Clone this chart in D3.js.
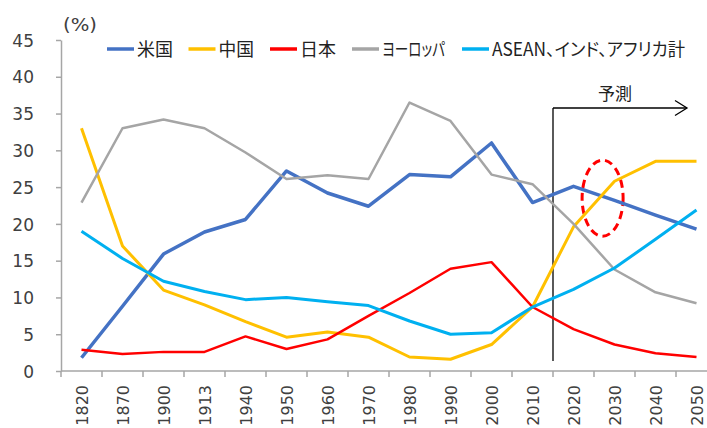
<!DOCTYPE html>
<html><head><meta charset="utf-8">
<script src="https://cdn.jsdelivr.net/npm/d3@7"></script>
<style>
html,body{margin:0;padding:0;background:#fff;}
svg{display:block;}
.jp{font-feature-settings:"palt";}
</style></head>
<body>
<svg id="chart" width="707" height="428"></svg>
<script>
const categories = ["1820","1870","1900","1913","1940","1950","1960","1970","1980","1990","2000","2010","2020","2030","2040","2050"];
const usValues     = [1.8, 8.8, 15.9, 18.9, 20.6, 27.2, 24.2, 22.4, 26.7, 26.4, 31.0, 22.9, 25.1, 23.2, 21.2, 19.3];
const chinaValues  = [33.0, 17.0, 11.0, 9.0, 6.7, 4.6, 5.3, 4.6, 1.9, 1.6, 3.6, 8.7, 19.6, 25.8, 28.5, 28.5];
const japanValues  = [2.9, 2.3, 2.6, 2.6, 4.7, 3.0, 4.3, 7.5, 10.6, 13.9, 14.8, 8.7, 5.7, 3.6, 2.4, 1.9];
const europeValues = [22.9, 33.0, 34.2, 33.0, 29.7, 26.1, 26.6, 26.1, 36.5, 34.0, 26.7, 25.4, 20.0, 13.8, 10.7, 9.2];
const aseanValues  = [19.0, 15.3, 12.2, 10.8, 9.7, 10.0, 9.4, 8.9, 6.8, 5.0, 5.2, 8.7, 11.1, 14.0, 17.9, 21.9];
const seriesNames  = ["米国", "中国", "日本", "ヨーロッパ", "ASEAN、インド、アフリカ計"];
const seriesColors = ["#4472C4", "#FFC000", "#FF0000", "#A5A5A5", "#00B0F0"];
const seriesWidths = [3.5, 3, 2.5, 2.5, 3];
const yTicks = [0, 5, 10, 15, 20, 25, 30, 35, 40, 45];
const unitLabel = "(%)";
const forecastLabel = "予測";
const forecastStart = "2020";

const seriesValues = [usValues, chinaValues, japanValues, europeValues, aseanValues];

const svg = d3.select("#chart");
const font = "'DejaVu Sans', Verdana, 'Noto Sans CJK JP', sans-serif";
const jpFont = "'Noto Sans CJK JP', 'DejaVu Sans', sans-serif";

const x = d3.scaleBand().domain(categories).range([61, 717]).padding(0);
const y = d3.scaleLinear().domain([0, 45]).range([371, 40]);
const cx = c => x(c) + x.bandwidth() / 2;

const axisColor = "#A6A6A6";
const textColor = "#404040";

// Y axis
const yAxis = d3.axisLeft(y).tickValues(yTicks).tickSize(5).tickSizeOuter(0).tickPadding(22);
const gy = svg.append("g").attr("transform", "translate(61,0)").call(yAxis);
gy.select(".domain").attr("stroke", axisColor).attr("stroke-width", 1.5);
gy.selectAll(".tick line").attr("stroke", axisColor).attr("stroke-width", 1.5);
gy.selectAll(".tick text").attr("fill", textColor).style("font-family", font).style("font-size", "17px").attr("dy", "0.36em");

// X axis
const gx = svg.append("g");
gx.append("line").attr("x1", x.range()[0]).attr("x2", x.range()[1]).attr("y1", y(0)).attr("y2", y(0))
  .attr("stroke", axisColor).attr("stroke-width", 1.5);
const boundaries = categories.map(c => x(c)).concat([x.range()[1]]);
gx.selectAll("line.tk").data(boundaries).enter().append("line").attr("class", "tk")
  .attr("x1", d => d).attr("x2", d => d).attr("y1", y(0)).attr("y2", y(0) + 6)
  .attr("stroke", axisColor).attr("stroke-width", 1.5);
gx.selectAll("text").data(categories).enter().append("text")
  .attr("transform", d => `translate(${cx(d) + 6},${y(0) + 14}) rotate(-90)`)
  .attr("text-anchor", "end")
  .attr("fill", textColor)
  .style("font-family", font).style("font-size", "16px")
  .text(d => d);

// unit label
svg.append("text").attr("x", 63).attr("y", 31).attr("fill", textColor)
  .attr("textLength", 34).attr("lengthAdjust", "spacingAndGlyphs")
  .style("font-family", font).style("font-size", "17px").text(unitLabel);

// Forecast annotation
const fx = x(forecastStart);
svg.append("line").attr("x1", fx).attr("x2", fx).attr("y1", 108).attr("y2", 361)
  .attr("stroke", "#000").attr("stroke-width", 1.3);
svg.append("line").attr("x1", fx).attr("x2", 687).attr("y1", 108).attr("y2", 108)
  .attr("stroke", "#000").attr("stroke-width", 1.3);
svg.append("polyline").attr("points", "675,100.5 687,108 675,115.5")
  .attr("fill", "none").attr("stroke", "#000").attr("stroke-width", 1.3);
svg.append("text").attr("x", 615).attr("y", 100).attr("text-anchor", "middle").attr("fill", "#222")
  .style("font-family", jpFont).style("font-size", "17px").text(forecastLabel);

// Dashed ellipse
svg.append("ellipse")
  .attr("cx", cx("2020") + 0.71 * x.bandwidth()).attr("cy", y(23.5))
  .attr("rx", 20.5).attr("ry", 38)
  .attr("fill", "none").attr("stroke", "#FF0000").attr("stroke-width", 3)
  .attr("stroke-dasharray", "8,5");

// Lines
const line = d3.line().x((d, i) => cx(categories[i])).y(d => y(d));
seriesValues.forEach((vals, s) => {
  svg.append("path").datum(vals).attr("d", line)
    .attr("fill", "none").attr("stroke", seriesColors[s]).attr("stroke-width", seriesWidths[s])
    .attr("stroke-linejoin", "round");
});

// Legend
const legendX = [107, 188.5, 270, 352, 462];
const legendTextW = [36, 35.5, 36, 63, 193];
const lg = svg.append("g");
seriesNames.forEach((n, i) => {
  lg.append("line").attr("x1", legendX[i]).attr("x2", legendX[i] + 27).attr("y1", 49).attr("y2", 49)
    .attr("stroke", seriesColors[i]).attr("stroke-width", 3.5);
  lg.append("text").attr("class", "jp").attr("x", legendX[i] + 30).attr("y", 56).attr("fill", "#222")
    .attr("textLength", legendTextW[i]).attr("lengthAdjust", "spacingAndGlyphs")
    .style("font-family", jpFont).style("font-size", "18px").text(n);
});
</script>
</body></html>
